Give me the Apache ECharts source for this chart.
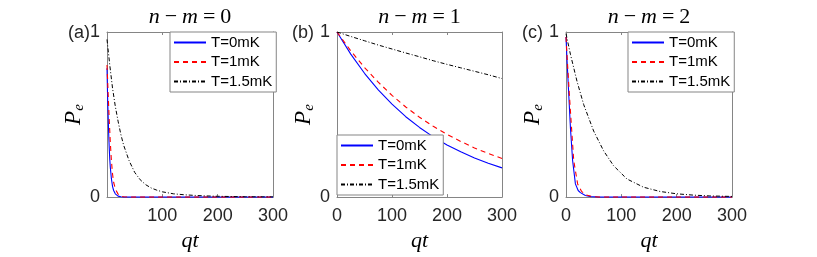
<!DOCTYPE html>
<html><head><meta charset="utf-8">
<script src="https://cdn.jsdelivr.net/npm/echarts@6/dist/echarts.min.js"></script>
<style>html,body{margin:0;padding:0;background:#fff}#c{width:817px;height:257px}</style>
</head><body><div id="c"></div>
<script>
// ---------- data ----------
const seriesNames = ['T=0mK', 'T=1mK', 'T=1.5mK'];
const panelTags = ['(a)', '(b)', '(c)'];
const panelNM = ['0', '1', '2'];
const xTickValues = [0, 100, 200, 300];
const yTickValues = [0, 1];

// panel (a): n-m = 0
const a_qt_T0 = [0, 1, 2, 3, 4, 5, 6, 8, 10, 12, 15, 20, 25, 30, 300];
const a_pe_T0 = [0.78, 0.62, 0.50, 0.39, 0.30, 0.23, 0.18, 0.11, 0.065, 0.04, 0.02, 0.006, 0.002, 0, 0];
const a_qt_T1 = [0, 1, 2, 3, 4, 5, 6, 8, 10, 12, 15, 20, 25, 30, 40, 300];
const a_pe_T1 = [0.80, 0.72, 0.63, 0.55, 0.47, 0.40, 0.33, 0.22, 0.14, 0.09, 0.05, 0.018, 0.006, 0.002, 0, 0];
const a_qt_T15 = [0, 5, 10, 15, 20, 25, 30, 40, 50, 60, 70, 80, 90, 100, 120, 140, 160, 180, 200, 250, 300];
const a_pe_T15 = [0.955, 0.80, 0.66, 0.55, 0.46, 0.38, 0.315, 0.22, 0.15, 0.105, 0.075, 0.055, 0.042, 0.032, 0.02, 0.014, 0.01, 0.007, 0.005, 0.002, 0.001];

// panel (b): n-m = 1
const b_qt = [0, 25, 50, 75, 100, 125, 150, 175, 200, 225, 250, 275, 300];
const b_pe_T0 = [1, 0.866, 0.75, 0.65, 0.563, 0.487, 0.422, 0.365, 0.316, 0.274, 0.237, 0.205, 0.177];
const b_pe_T1 = [1, 0.886, 0.785, 0.696, 0.616, 0.546, 0.484, 0.429, 0.38, 0.337, 0.298, 0.264, 0.234];
const b_pe_T15 = [1, 0.973, 0.947, 0.921, 0.897, 0.873, 0.850, 0.826, 0.804, 0.783, 0.762, 0.741, 0.718];

// panel (c): n-m = 2
const c_qt_T0 = [0, 2, 5, 8, 12, 17, 22, 26, 35, 45, 60, 300];
const c_pe_T0 = [0.97, 0.82, 0.62, 0.42, 0.22, 0.08, 0.04, 0.027, 0.01, 0.003, 0, 0];
const c_qt_T1 = [0, 2, 6, 9.6, 14, 21, 28, 35, 47, 60, 300];
const c_pe_T1 = [0.97, 0.85, 0.625, 0.44, 0.22, 0.08, 0.035, 0.015, 0.003, 0, 0];
const c_qt_T15 = [0, 8, 20, 32, 50, 68, 86, 110, 140, 170, 200, 230, 260, 300];
const c_pe_T15 = [0.99, 0.865, 0.70, 0.56, 0.40, 0.28, 0.19, 0.11, 0.06, 0.034, 0.02, 0.012, 0.007, 0.004];

// ---------- chart ----------
const zip = (xs, ys) => xs.map((x, i) => [x, ys[i]]);
const panelData = [
  [zip(a_qt_T0, a_pe_T0), zip(a_qt_T1, a_pe_T1), zip(a_qt_T15, a_pe_T15)],
  [zip(b_qt, b_pe_T0), zip(b_qt, b_pe_T1), zip(b_qt, b_pe_T15)],
  [zip(c_qt_T0, c_pe_T0), zip(c_qt_T1, c_pe_T1), zip(c_qt_T15, c_pe_T15)]
];

const SANS = 'Liberation Sans, Arial, sans-serif';
const SERIF = 'Liberation Serif, Times New Roman, serif';
const FRAME = '#858585';
const TXT = '#262626';

const layout = [
  {left: 107, width: 166, tagX: 90, legendLeft: 170, legendTop: 32},
  {left: 337, width: 165, tagX: 314, legendLeft: 337, legendTop: 135},
  {left: 566, width: 166, tagX: 543, legendLeft: 628, legendTop: 32}
];
const lineStyles = [
  {color: '#0000ff', type: 'solid', width: 1.1},
  {color: '#ff0000', type: [5, 4], width: 1.1},
  {color: '#000000', type: [4, 2, 1, 2], width: 1}
];

const grid = [], xAxis = [], yAxis = [], series = [], legend = [], graphic = [];
const xMin = xTickValues[0], xMax = xTickValues[xTickValues.length - 1];
const xInt = xTickValues[1] - xTickValues[0];
const yMin = yTickValues[0], yMax = yTickValues[yTickValues.length - 1];

layout.forEach((L, p) => {
  grid.push({left: L.left, top: 32, width: L.width, height: 166});
  const common = {min: xMin, max: xMax, interval: xInt, gridIndex: p,
    splitLine: {show: false},
    axisLine: {show: true, onZero: false, lineStyle: {color: FRAME, width: 1}},
    axisTick: {show: true, inside: true, length: 3, lineStyle: {color: FRAME}}};
  xAxis.push(Object.assign({}, common, {
    type: 'value', position: 'bottom',
    axisLabel: {show: true, margin: 10, color: TXT, fontFamily: SANS, fontSize: 18,
      formatter: v => (p === 0 && v === 0) ? '' : String(v)},
    name: 'qt', nameLocation: 'middle', nameGap: 31,
    nameTextStyle: {fontFamily: SERIF, fontStyle: 'italic', fontSize: 22, color: '#000'}
  }));
  xAxis.push(Object.assign({}, common, {
    type: 'value', position: 'top', axisLabel: {show: false}
  }));
  const ycommon = {type: 'value', min: yMin, max: yMax, interval: yMax - yMin, gridIndex: p,
    splitLine: {show: false},
    axisLine: {show: true, onZero: false, lineStyle: {color: FRAME, width: 1}},
    axisTick: {show: false}};
  yAxis.push(Object.assign({}, ycommon, {
    position: 'left',
    axisLabel: {show: true, margin: 7, color: TXT, fontFamily: SANS, fontSize: 18},
    name: '{p|P}{s|e}', nameLocation: 'middle', nameGap: 15,
    nameTextStyle: {color: '#000', rich: {
      p: {fontFamily: SERIF, fontStyle: 'italic', fontSize: 23, lineHeight: 23, verticalAlign: 'top'},
      s: {fontFamily: SERIF, fontStyle: 'italic', fontSize: 15, lineHeight: 15, padding: [10, 0, 0, 0]}
    }}
  }));
  yAxis.push(Object.assign({}, ycommon, {position: 'right', axisLabel: {show: false}}));

  seriesNames.forEach((nm, k) => {
    series.push({
      type: 'line', name: nm, xAxisIndex: 2 * p, yAxisIndex: 2 * p,
      data: panelData[p][k], symbol: 'none', smooth: false,
      lineStyle: lineStyles[k], itemStyle: {color: lineStyles[k].color},
      animation: false, z: 2 + k
    });
  });

  legend.push({
    left: L.legendLeft, top: L.legendTop, orient: 'vertical',
    data: seriesNames, itemWidth: 32, itemHeight: 15, itemGap: 4.5,
    padding: [3, 4, 3, 3], backgroundColor: '#fff',
    borderColor: FRAME, borderWidth: 1, borderRadius: 0,
    itemStyle: {opacity: 0},
    textStyle: {fontFamily: SANS, fontSize: 15, color: '#000', lineHeight: 15},
    selectedMode: false, z: 10
  });

  graphic.push({type: 'text', x: L.left + L.width / 2, y: 17, z: 20,
    style: {text: '{i|n}{o|−}{i|m}{o|=}{d|' + panelNM[p] + '}', align: 'center', verticalAlign: 'middle',
      fill: '#000',
      rich: {
        i: {fontStyle: 'italic', fontFamily: SERIF, fontSize: 22},
        o: {fontFamily: SERIF, fontSize: 22, padding: [0, 5, 0, 5]},
        d: {fontFamily: SERIF, fontSize: 22}
      }}});
  graphic.push({type: 'text', x: L.tagX, y: 33, z: 20,
    style: {text: panelTags[p], align: 'right', verticalAlign: 'middle',
      font: '18px ' + SANS, fill: TXT}});
});

const chart = echarts.init(document.getElementById('c'), null, {renderer: 'canvas'});
chart.setOption({backgroundColor: '#fff', animation: false, grid, xAxis, yAxis, series, legend, graphic});
</script></body></html>
